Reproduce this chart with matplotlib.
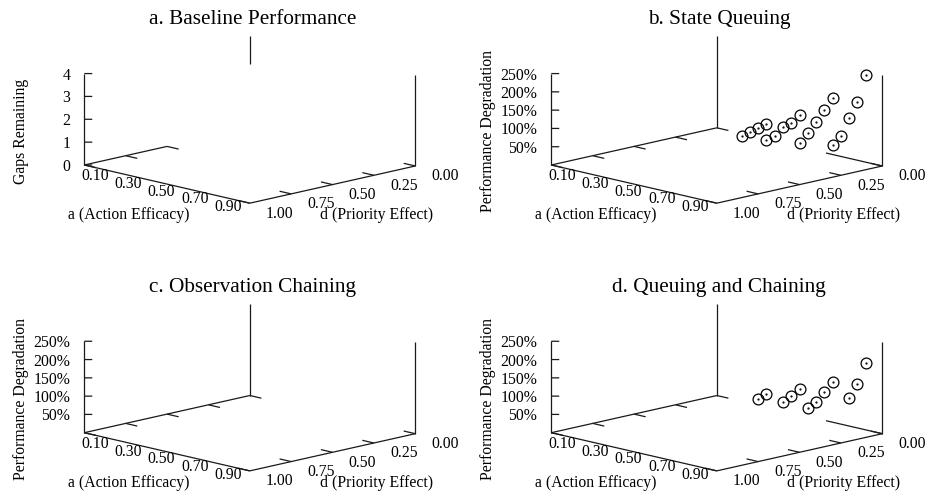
import numpy as np
import matplotlib
matplotlib.use("Agg")
import matplotlib.pyplot as plt

plt.rcParams['font.family'] = ['Liberation Serif', 'DejaVu Serif']

W, H, DPI = 926, 493, 100

titles = ["a. Baseline Performance", "b. State Queuing",
          "c. Observation Chaining", "d. Queuing and Chaining"]
z_names = ["Gaps Remaining", "Performance Degradation",
           "Performance Degradation", "Performance Degradation"]
a_name = "a (Action Efficacy)"
d_name = "d (Priority Effect)"

a_ticks = [0.10, 0.30, 0.50, 0.70, 0.90]
d_ticks = [1.00, 0.75, 0.50, 0.25, 0.00]
gap_ticks = [0, 1, 2, 3, 4]
pct_ticks = [50, 100, 150, 200, 250]

# b. State Queuing
queue_a = [0.3, 0.3, 0.3, 0.3,
           0.5, 0.5, 0.5, 0.5, 0.5,
           0.7, 0.7, 0.7, 0.7, 0.7,
           0.9, 0.9, 0.9, 0.9, 0.9]
queue_d = [0.15, 0.10, 0.05, 0.00,
           0.20, 0.15, 0.10, 0.05, 0.00,
           0.20, 0.15, 0.10, 0.05, 0.00,
           0.20, 0.15, 0.10, 0.05, 0.00]
queue_pct = [25, 30, 36, 43,
             39, 46, 65, 71, 87,
             52, 75, 98, 126, 155,
             67, 88, 130, 170, 238]

# d. Queuing and Chaining
both_a = [0.3, 0.3,
          0.5, 0.5, 0.5,
          0.7, 0.7, 0.7, 0.7,
          0.9, 0.9, 0.9]
both_d = [0.05, 0.00,
          0.10, 0.05, 0.00,
          0.15, 0.10, 0.05, 0.00,
          0.10, 0.05, 0.00]
both_pct = [28, 35,
            45, 56, 69,
            53, 66, 87, 109,
            96, 130, 182]

panels = [
    dict(zmax=4, zticks=gap_ticks, zfmt="{}", pts=None,
         side_end=0.5, back_z0=2.8, back_edge=None),
    dict(zmax=250, zticks=pct_ticks, zfmt="{}%", pts=(queue_a, queue_d, queue_pct),
         side_end=0.0, back_z0=0.0, back_edge=0.66),
    dict(zmax=250, zticks=pct_ticks, zfmt="{}%", pts=None,
         side_end=0.0, back_z0=0.0, back_edge=None),
    dict(zmax=250, zticks=pct_ticks, zfmt="{}%", pts=(both_a, both_d, both_pct),
         side_end=0.0, back_z0=0.0, back_edge=0.66),
]
# pixel position (from top-left) of the corner a=0, d=1, z=0 in each panel
origins = [(84.3, 165.0), (551.3, 165.0), (84.3, 432.7), (551.3, 432.7)]

ELEV, AZIM = 13.16, -44.62
BOX = (1.0, 0.987, 0.3986)
SIZE = 420
LC = "#1a1a1a"
LW = 0.9
FS = 11.3


def project(ax, a, d, z):
    v = ax.get_proj() @ np.array([a, d, z, 1.0])
    return v[0] / v[3], v[1] / v[3]


def to_px(ax, a, d, z):
    return ax.transData.transform(project(ax, a, d, z))


def seg(ax, a, d, z):
    ax.plot(a, d, z, color=LC, lw=LW, solid_capstyle='butt')


fig = plt.figure(figsize=(W / DPI, H / DPI), dpi=DPI)
axes = []
for k, (L, p) in enumerate(zip(origins, panels)):
    cx, cy = L[0] + 165, L[1] - 45
    ax = fig.add_axes([(cx - SIZE / 2) / W, 1 - (cy + SIZE / 2) / H, SIZE / W, SIZE / H],
                      projection='3d')
    ax.set_proj_type('ortho')
    ax.view_init(elev=ELEV, azim=AZIM)
    ax.set_xlim(0, 1)
    ax.set_ylim(1, 0)
    ax.set_zlim(0, p['zmax'])
    ax.set_box_aspect(BOX, zoom=1.0)
    ax.set_axis_off()
    ax.set_facecolor('none')
    axes.append(ax)

# scale and place each box so the base corner lands where it should
fig.canvas.draw()
for ax in axes:
    pL = to_px(ax, 0, 1, 0)
    pR = to_px(ax, 1, 0, 0)
    ax.set_box_aspect(BOX, zoom=331.0 / (pR[0] - pL[0]))
fig.canvas.draw()
for ax, L in zip(axes, origins):
    pL = to_px(ax, 0, 1, 0)
    dx, dy = L[0] - pL[0], (H - L[1]) - pL[1]
    pos = ax.get_position(original=True)
    ax.set_position([pos.x0 + dx / W, pos.y0 + dy / H, pos.width, pos.height])

for k, (ax, p) in enumerate(zip(axes, panels)):
    zmax = p['zmax']
    # base edges
    seg(ax, [0, 1], [1, 1], [0, 0])
    seg(ax, [1, 1], [1, 0], [0, 0])
    seg(ax, [0, 0], [1, p['side_end']], [0, 0])
    if p['back_edge'] is not None:
        seg(ax, [p['back_edge'], 1], [0, 0], [0, 0])
    # verticals
    seg(ax, [0, 0], [1, 1], [0, zmax])
    seg(ax, [1, 1], [0, 0], [0, zmax])
    seg(ax, [0, 0], [0, 0], [p['back_z0'], zmax])
    # d ticks on the front-right edge and its mirror
    for d in d_ticks:
        seg(ax, [1, 0.93], [d, d], [0, 0])
        if d >= p['side_end']:
            seg(ax, [0, 0.07], [d, d], [0, 0])
    # z ticks
    for z in p['zticks']:
        seg(ax, [0, 0.024], [1, 0.976], [z, z])

    if p['pts'] is not None:
        pa, pd, pz = p['pts']
        ax.plot(pa, pd, pz, 'o', ms=7.8, mfc='none', mec='k', mew=0.9)
        ax.plot(pa, pd, pz, '.', ms=1.2, color='k')

    # labels
    def note(s, xyz, off, **kw):
        ax.annotate(s, xy=project(ax, *xyz), xycoords='data', xytext=off,
                    textcoords='offset pixels', annotation_clip=False,
                    fontsize=kw.pop('fontsize', FS), **kw)

    for a in a_ticks:
        note(f"{a:.2f}", (a, 1, 0), (-5.5, -7.5), ha='center', va='center')
    for d in d_ticks:
        note(f"{d:.2f}", (1, d, 0), (30, -10.5), ha='center', va='center')
    for z in p['zticks']:
        note(p['zfmt'].format(z), (0, 1, z), (-14, -2), ha='right', va='center')
    note(a_name, (0, 1, 0), (44.5, -50.3), ha='center', va='center')
    note(d_name, (0, 1, 0), (292, -50.3), ha='center', va='center')
    note(z_names[k], (0, 1, 0), (-63, 34), ha='center', va='center', rotation=90)
    note(titles[k], (0, 1, 0), (168, 145.5), ha='center', va='center', fontsize=15.3)

fig.savefig("out.png", dpi=DPI, facecolor='white')
